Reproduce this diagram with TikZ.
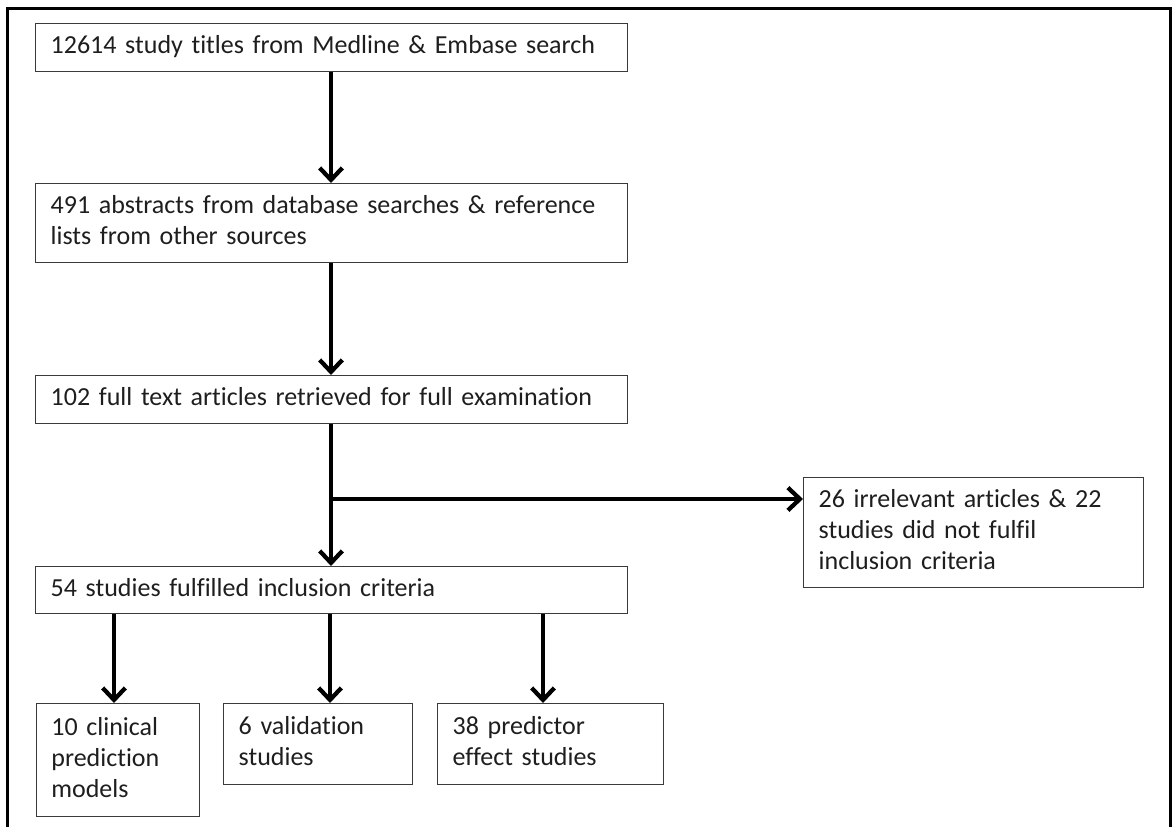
\documentclass[tikz,border=0pt]{standalone}
\usepackage{fontspec}
\setmainfont{Carlito}[Ligatures=NoCommon]
\usetikzlibrary{arrows.meta}
\definecolor{boxc}{HTML}{3A3A3A}
\definecolor{txtc}{HTML}{1E1E1E}
\tikzset{
  box/.style={draw=boxc, line width=1pt, anchor=north west, align=left,
    inner xsep=11.25pt, inner ysep=0pt, text=txtc,
    font=\fontsize{19.5}{23.25}\selectfont,
    execute at begin node=\strut, execute at end node=\strut},
  arr/.style={line width=2.5pt, -{Straight Barb[length=9pt,width=17pt,line width=3.2pt]}},
  frame/.style={line width=2.25pt}
}
\begin{document}
\begin{tikzpicture}[x=0.75pt,y=-0.75pt]
\useasboundingbox (0,0) rectangle (1173,827);
\draw[frame] (7.5,827) -- (7.5,9) -- (1170,9) -- (1170,827);
\node[box, text width=0.75*592pt-22.5pt, minimum height=0.75*48pt] (b1) at (35,23) {12614 study titles from Medline \& Embase search};
\node[box, text width=0.75*592pt-22.5pt, minimum height=0.75*79pt] (b2) at (35,183) {491 abstracts from database searches \& reference\\lists from other sources};
\node[box, text width=0.75*592pt-22.5pt, minimum height=0.75*48pt] (b3) at (35,375) {102 full text articles retrieved for full examination};
\node[box, text width=0.75*340pt-22.5pt, minimum height=0.75*110pt] (b4) at (803,477) {26 irrelevant articles \& 22\\studies did not fulfil\\inclusion criteria};
\node[box, text width=0.75*592pt-22.5pt, minimum height=0.75*47pt] (b5) at (35,566) {54 studies fulfilled inclusion criteria};
\node[box, text width=0.75*163pt-22.5pt, minimum height=0.75*113pt] (bA) at (35.7,703) {10 clinical\\prediction\\models};
\node[box, text width=0.75*189pt-22.5pt, minimum height=0.75*81pt] (bB) at (223,703) {6 validation\\studies};
\node[box, text width=0.75*226pt-22.5pt, minimum height=0.75*81pt] (bC) at (437,703) {38 predictor\\effect studies};
\coordinate (cx) at (331,0);
\coordinate (j) at (331,499);
\coordinate (xa) at (114,0);
\coordinate (xb) at (330,0);
\coordinate (xc) at (543,0);
\draw[arr] (b1.south -| cx) -- (b2.north -| cx);
\draw[arr] (b2.south -| cx) -- (b3.north -| cx);
\draw[arr] (b3.south -| cx) -- (b5.north -| cx);
\draw[arr] (j) -- (j -| b4.west);
\draw[arr] (b5.south -| xa) -- (bA.north -| xa);
\draw[arr] (b5.south -| xb) -- (bB.north -| xb);
\draw[arr] (b5.south -| xc) -- (bC.north -| xc);
\end{tikzpicture}
\end{document}
